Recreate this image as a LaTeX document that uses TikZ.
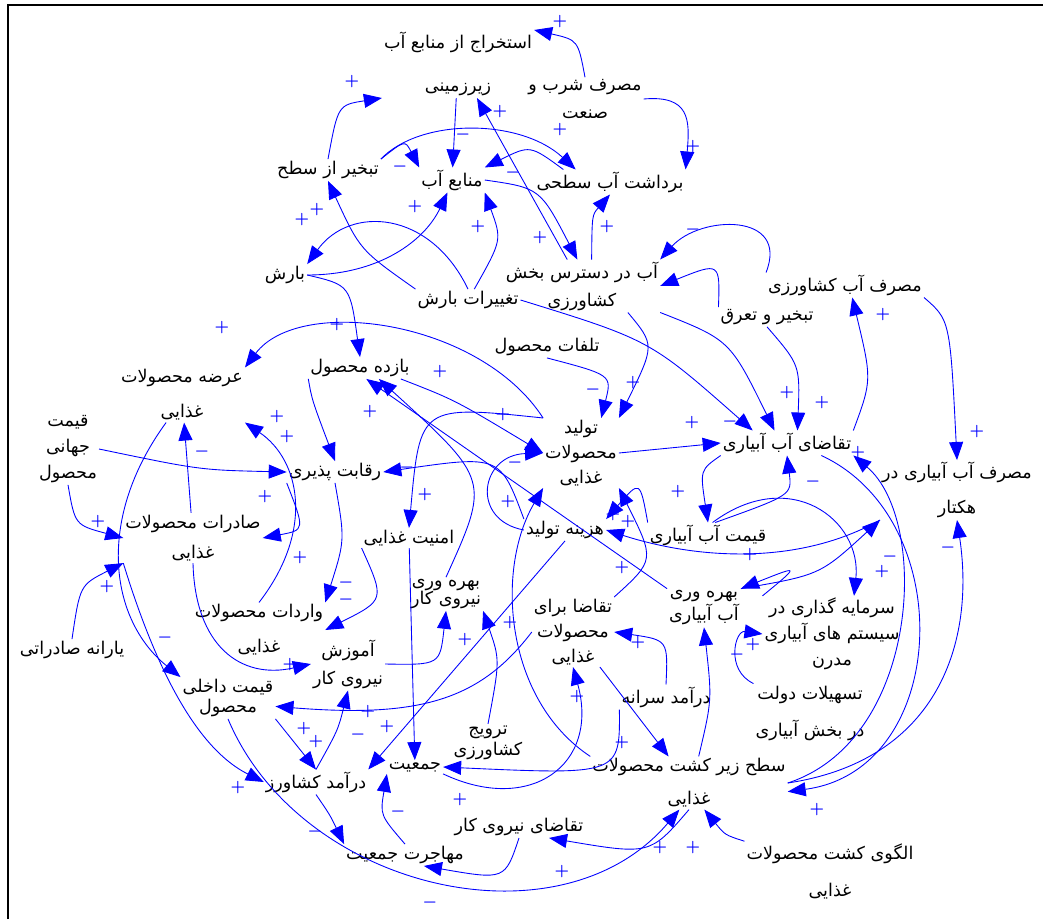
\documentclass[tikz,border=0pt]{standalone}
\usepackage{fontspec}
\usepackage{tikz}
\usetikzlibrary{arrows.meta,positioning,calc}
\newfontfamily\fa[Script=Arabic]{DejaVu Sans}
\TeXXeTstate=1
\newcommand\fl[1]{\beginR#1\endR}

\begin{document}
\begin{tikzpicture}[x=0.02cm,y=-0.02cm,
  var/.style={font=\fontsize{10}{12}\selectfont\fa,align=center,inner sep=1pt},
  lk/.style={blue,line width=.5pt,-{Triangle[length=3.6mm,width=2.8mm]}},
  sg/.style={blue,font=\fontsize{9}{9}\selectfont\boldmath,inner sep=0pt}]
\useasboundingbox (0,0) rectangle (1043,919);
\draw[line width=1.1pt] (8,919) -- (8,5) -- (1043,5);

% variables
\node[var] (estx) at (458,64) {\fl{استخراج از منابع آب}\\[12.5pt]\fl{زیرزمینی}};
\node[var] (shorb) at (585,99) {\fl{مصرف شرب و}\\[3.9pt]\fl{صنعت}};
\node[var] (bardasht) at (610,182) {\fl{برداشت آب سطحی}};
\node[var] (manabe) at (452,180) {\fl{منابع آب}};
\node[var] (tabkhir) at (328,170) {\fl{تبخیر از سطح}};
\node[var] (baresh) at (285,275) {\fl{بارش}};
\node[var] (taghir) at (468,300) {\fl{تغییرات بارش}};
\node[var] (dastres) at (582,286) {\fl{آب در دسترس بخش}\\[3.9pt]\fl{کشاورزی}};
\node[var] (masrafk) at (845,285) {\fl{مصرف آب کشاورزی}};
\node[var] (tabtar) at (767,317) {\fl{تبخیر و تعرق}};
\node[var] (talafat) at (547,347) {\fl{تلفات محصول}};
\node[var] (bazdeh) at (360,368) {\fl{بازده محصول}};
\node[var] (arzeh) at (182,395) {\fl{عرضه محصولات}\\[7.9pt]\fl{غذایی}};
\node[var] (jahani) at (68,449) {\fl{قیمت}\\[2.8pt]\fl{جهانی}\\[2.8pt]\fl{محصول}};
\node[var] (reghabat) at (335,472) {\fl{رقابت پذیری}};
\node[var] (tolid) at (581,453) {\fl{تولید}\\[2.2pt]\fl{محصولات}\\[2.2pt]\fl{غذایی}};
\node[var] (taghazab) at (787,443) {\fl{تقاضای آب آبیاری}};
\node[var] (masrafh) at (957,490) {\fl{مصرف آب آبیاری در}\\[7.9pt]\fl{هکتار}};
\node[var] (saderat) at (193,538) {\fl{صادرات محصولات}\\[5.1pt]\fl{غذایی}};
\node[var] (amniat) at (409,538) {\fl{امنیت غذایی}};
\node[var] (hazineh) at (565,530) {\fl{هزینه تولید}};
\node[var] (gheimatab) at (708,535) {\fl{قیمت آب آبیاری}};
\node[var] (bahrehn) at (446,594) {\fl{بهره وری}\\[-1.8pt]\fl{نیروی کار}};
\node[var] (bahrehab) at (704,608) {\fl{بهره وری}\\[1.1pt]\fl{آب آبیاری}};
\node[var] (taghazag) at (573,632) {\fl{تقاضا برای}\\[2.2pt]\fl{محصولات}\\[2.2pt]\fl{غذایی}};
\node[var] (sarmayeh) at (832,634) {\fl{سرمایه گذاری در}\\[2.8pt]\fl{سیستم های آبیاری}\\[2.8pt]\fl{مدرن}};
\node[var] (varedat) at (259,630) {\fl{واردات محصولات}\\[7.9pt]\fl{غذایی}};
\node[var] (yaraneh) at (72,650) {\fl{یارانه صادراتی}};
\node[var] (amuzesh) at (348,664) {\fl{آموزش}\\[3.9pt]\fl{نیروی کار}};
\node[var] (gheimatd) at (228,698) {\fl{قیمت داخلی}\\[-0.6pt]\fl{محصول}};
\node[var] (daramads) at (666,697) {\fl{درآمد سرانه}};
\node[var] (tashilat) at (810,713) {\fl{تسهیلات دولت}\\[9.1pt]\fl{در بخش آبیاری}};
\node[var] (tarvij) at (488,743) {\fl{ترویج}\\[0pt]\fl{کشاورزی}};
\node[var] (jamiat) at (415,767) {\fl{جمعیت}};
\node[var] (daramadk) at (316,782) {\fl{درآمد کشاورز}};
\node[var] (sath) at (689,783) {\fl{سطح زیر کشت محصولات}\\[6.8pt]\fl{غذایی}};
\node[var] (taghazan) at (519,827) {\fl{تقاضای نیروی کار}};
\node[var] (mohajerat) at (405,855) {\fl{مهاجرت جمعیت}};
\node[var] (olgu) at (830,871) {\fl{الگوی کشت محصولات}\\[9.1pt]\fl{غذایی}};

% links
\draw[lk] (shorb.north) .. controls (578,40) .. (estx.north east);
\draw[lk] (shorb.east) .. controls (690,95) and (690,120) .. (bardasht.north east);
\draw[lk] (estx) -- (manabe);
\draw[lk] (tabkhir.north east) .. controls (405,140) .. (manabe.north west);
\draw[lk] (tabkhir.north east) .. controls (420,118) and (520,118) .. (bardasht.160);
\draw[lk] (bardasht.165) .. controls (530,145) .. (manabe.north east);
\draw[lk] (manabe.east) .. controls (540,188) .. (dastres.100);
\draw[lk] (dastres) -- (estx);
\draw[lk] (dastres.70) .. controls (592,215) .. (bardasht.south);
\draw[lk] (tabkhir.north) .. controls (338,105) .. (estx.south west);
\draw[lk] (baresh.east) .. controls (380,275) and (425,240) .. (manabe.250);
\draw[lk] (baresh.east) .. controls (350,285) .. (bazdeh.north);
\draw[lk] (taghir.north) .. controls (430,210) and (350,205) .. (baresh.north east);
\draw[lk] (taghir.north west) .. controls (360,250) .. (tabkhir.south);
\draw[lk] (taghir.60) .. controls (502,240) .. (manabe.south east);
\draw[lk] (masrafk.north west) .. controls (790,212) and (700,215) .. (dastres.north east);
\draw[lk] (tabtar.north west) .. controls (720,262) .. (dastres.east);
\draw[lk] (dastres.south east) .. controls (730,340) .. (taghazab.135);
\draw[lk] (taghir.east) .. controls (650,340) .. (taghazab.160);
\draw[lk] (tabtar.south) .. controls (800,365) .. (taghazab.50);
\draw[lk] (talafat.south) .. controls (612,375) .. (tolid.60);
\draw[lk] (dastres.-30) .. controls (655,345) .. (tolid.north east);
\draw[lk] (tolid.east) -- (taghazab.west);
\draw[lk] (tolid.north west) .. controls (480,320) and (300,295) .. (arzeh.north east);
\draw[lk] (bazdeh.-15) .. controls (455,400) .. (tolid.west);
\draw[lk] (hazineh.west) .. controls (470,520) and (480,455) .. (tolid.west);
\draw[lk] (tolid.north west) .. controls (420,405) .. (amniat.north);
\draw[lk] (bahrehn.north) .. controls (490,480) .. (bazdeh.-30);
\draw[lk] (bahrehab.north west) -- (bazdeh.-60);
\draw[lk] (hazineh.north west) .. controls (500,455) .. (reghabat.east);
\draw[lk] (taghazag.north east) .. controls (655,560) .. (tolid.south east);
\draw[lk] (gheimatab.north west) .. controls (640,480) .. (hazineh.north east);
\draw[lk] (taghazab.south west) .. controls (700,470) .. (gheimatab.north);
\draw[lk] (gheimatab.60) .. controls (792,495) .. (taghazab.south);
\draw[lk] (gheimatab.70) .. controls (790,465) and (862,520) .. (sarmayeh.60);
\draw[lk] (masrafh.south west) .. controls (800,565) and (700,560) .. (hazineh.east);
\draw[lk] (bahrehab.north east) .. controls (820,575) .. (masrafh.south west);
\draw[lk] (sarmayeh.north west) .. controls (800,565) .. (bahrehab.north east);
\draw[lk] (tashilat.north west) .. controls (725,670) and (735,630) .. (sarmayeh.west);
\draw[lk] (sath.70) .. controls (712,700) .. (bahrehab.south);
\draw[lk] (sath.east) .. controls (920,740) and (930,520) .. (taghazab.south east);
\draw[lk] (taghazab.-20) .. controls (960,520) and (950,770) .. (sath.-5);
\draw[lk] (sath.east) .. controls (940,760) and (975,640) .. (masrafh.south);
\draw[lk] (taghazab.north east) .. controls (872,380) .. (masrafk.-60);
\draw[lk] (masrafk.south east) .. controls (950,320) .. (masrafh.north);
\draw[lk] (sath.north west) .. controls (505,700) and (495,570) .. (tolid.south west);
\draw[lk] (daramads.north) .. controls (668,640) .. (taghazag.east);
\draw[lk] (taghazag) -- (sath);
\draw[lk] (jamiat.south east) .. controls (530,815) and (600,765) .. (taghazag.south);
\draw[lk] (daramads.south west) .. controls (620,775) .. (jamiat.east);
\draw[lk] (sath.south) .. controls (650,855) .. (taghazan.-20);
\draw[lk] (gheimatd.south) .. controls (300,890) and (560,950) .. (sath.250);
\draw[lk] (olgu.north west) .. controls (725,835) .. (sath.-60);
\draw[lk] (taghazan.south) .. controls (505,880) .. (mohajerat.-30);
\draw[lk] (mohajerat.north) .. controls (380,815) .. (jamiat.south west);
\draw[lk] (daramadk.south) .. controls (330,815) .. (mohajerat.north west);
\draw[lk] (amniat) -- (jamiat);
\draw[lk] (amniat.south west) .. controls (385,600) .. (varedat.east);
\draw[lk] (reghabat.south) .. controls (345,540) .. (varedat.north east);
\draw[lk] (reghabat.south west) .. controls (305,530) .. (saderat.east);
\draw[lk] (varedat.north) .. controls (315,530) and (300,460) .. (arzeh.south east);
\draw[lk] (bazdeh.south west) .. controls (312,400) .. (reghabat.north);
\draw[lk] (saderat) -- (arzeh);
\draw[lk] (jahani.east) .. controls (200,470) .. (reghabat.west);
\draw[lk] (jahani.south) .. controls (75,525) .. (saderat.west);
\draw[lk] (yaraneh.north) .. controls (80,585) .. (saderat.south west);
\draw[lk] (arzeh.240) .. controls (95,520) and (110,620) .. (gheimatd.north west);
\draw[lk] (saderat.south west) .. controls (150,650) and (190,745) .. (daramadk.west);
\draw[lk] (saderat.south) .. controls (195,645) and (240,680) .. (amuzesh.west);
\draw[lk] (gheimatd.south east) -- (daramadk.north);
\draw[lk] (taghazag.west) .. controls (480,700) and (420,718) .. (gheimatd.-10);
\draw[lk] (hazineh.south) -- (daramadk.north east);
\draw[lk] (daramadk.north) .. controls (338,730) .. (amuzesh.south);
\draw[lk] (amuzesh.east) .. controls (440,665) .. (bahrehn.south);
\draw[lk] (tarvij.north) .. controls (500,660) .. (bahrehn.south east);

% polarities
\foreach \x/\y/\t [count=\i] in {560/22/+,352/82/+,500/112/+,560/130/+,693/147/+,463/135/-,400/167/-,513/173/-,
  415/207/+,478/227/+,317/210/+,302/220/+,540/238/+,607/227/+,693/230/-,337/325/+,222/328/+,593/390/-,
  633/383/+,440/372/+,370/412/+,503/415/+,425/495/+,407/468/-,515/463/-,277/417/+,287/437/+,202/452/-,
  265/497/+,98/522/+,107/587/+,300/558/+,346/583/-,346/600/-,165/638/-,290/665/+,238/788/+,304/729/+,
  316/742/+,368/712/+,358/735/-,387/727/+,465/640/+,510/623/+,508/502/+,613/515/+,628/522/+,678/492/+,
  692/423/+,730/422/-,787/393/+,822/403/+,813/482/-,858/453/+,883/315/+,977/432/+,882/572/+,890/557/-,
  750/555/+,948/548/-,817/810/+,753/645/+,737/655/-,638/643/+,622/743/+,577/697/+,460/800/+,398/812/-,
  315/832/-,430/903/-,562/872/+,660/848/+,693/848/+,622/568/+}
  \node[sg] (s\i) at (\x,\y) {$\t$};
\end{tikzpicture}
\end{document}
